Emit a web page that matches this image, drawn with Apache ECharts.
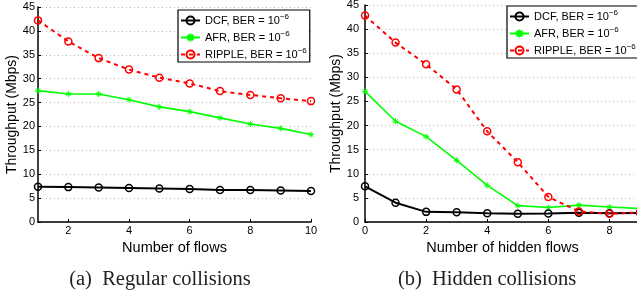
<!DOCTYPE html>
<html>
<head>
<meta charset="utf-8">
<script src="https://cdn.jsdelivr.net/npm/echarts@6/dist/echarts.min.js"></script>
<style>
html, body { margin: 0; padding: 0; background: #fff; }
#main { width: 637px; height: 293px; }
</style>
</head>
<body>
<div id="main"></div>
<script>
// data
var flowsA = [1, 2, 3, 4, 5, 6, 7, 8, 9, 10];
var dcfA = [7.4, 7.3, 7.2, 7.1, 7.0, 6.9, 6.7, 6.7, 6.6, 6.5];
var afrA = [27.5, 26.8, 26.8, 25.6, 24.1, 23.1, 21.8, 20.5, 19.6, 18.3];
var rippleA = [42.2, 37.8, 34.3, 31.9, 30.2, 29.0, 27.4, 26.6, 25.9, 25.3];

var flowsB = [0, 1, 2, 3, 4, 5, 6, 7, 8, 9];
var dcfB = [7.4, 4.0, 2.1, 2.0, 1.8, 1.7, 1.75, 1.9, 1.8, 1.9];
var afrB = [27.1, 20.9, 17.7, 12.8, 7.6, 3.4, 3.0, 3.5, 3.1, 2.8];
var rippleB = [42.8, 37.2, 32.7, 27.5, 18.8, 12.4, 5.2, 2.2, 1.7, 2.0];

var ticksA = [2, 4, 6, 8, 10];
var ticksB = [0, 2, 4, 6, 8];

var names = ['DCF', 'AFR', 'RIPPLE'];
var captions = ['(a)  Regular collisions', '(b)  Hidden collisions'];
var xNames = ['Number of flows', 'Number of hidden flows'];

function pairs(xs, ys) {
	return xs.map(function(x, i) { return [x, ys[i]]; });
}

var star = 'path://M0,-5L0,5M-5,0L5,0M-3.5,-3.5L3.5,3.5M-3.5,3.5L3.5,-3.5';

function mkSeries(idx, xs, dcf, afr, ripple) {
	return [{
		name: names[0],
		type: 'line',
		xAxisIndex: idx,
		yAxisIndex: idx,
		data: pairs(xs, dcf),
		symbol: 'circle',
		symbolSize: 7,
		lineStyle: { color: '#000', width: 2 },
		itemStyle: { color: 'rgba(255,255,255,0)', borderColor: '#000', borderWidth: 1.5 },
		z: 4
	}, {
		name: names[1],
		type: 'line',
		xAxisIndex: idx,
		yAxisIndex: idx,
		data: pairs(xs, afr),
		symbol: star,
		symbolSize: 6,
		lineStyle: { color: '#00ff00', width: 1.6 },
		itemStyle: { color: 'rgba(0,0,0,0)', borderColor: '#00ff00', borderWidth: 1 },
		z: 3
	}, {
		name: names[2],
		type: 'line',
		xAxisIndex: idx,
		yAxisIndex: idx,
		data: pairs(xs, ripple),
		symbol: 'circle',
		symbolSize: 7,
		lineStyle: { color: '#ff0000', width: 2, type: [4, 4] },
		itemStyle: { color: 'rgba(255,255,255,0)', borderColor: '#ff0000', borderWidth: 1.5 },
		z: 5
	}];
}

function mkLegend(left, top) {
	return {
		left: left,
		top: top,
		orient: 'vertical',
		data: names,
		itemWidth: 19,
		itemHeight: 10,
		itemGap: 4,
		padding: [3, 3, 2, 2],
		borderColor: '#000',
		borderWidth: 1.2,
		backgroundColor: '#fff',
		formatter: function(n) { return n + ', BER = 10{s|\u22126}'; },
		textStyle: {
			fontFamily: 'Liberation Sans, Arial',
			fontSize: 11,
			color: '#000',
			rich: { s: { fontSize: 8, verticalAlign: 'top', padding: [0, 0, 7, 0], color: '#000' } }
		}
	};
}

function mkY(idx, margin) {
	return {
		gridIndex: idx,
		type: 'value',
		min: 0,
		max: 45,
		interval: 5,
		name: 'Throughput (Mbps)',
		nameLocation: 'middle',
		nameGap: 18,
		nameTextStyle: { fontFamily: 'Liberation Sans, Arial', fontSize: 14, color: '#000' },
		axisLine: { show: true, lineStyle: { color: '#000', width: 1.5 } },
		axisTick: { show: true, inside: true, length: 3, lineStyle: { color: '#000' } },
		axisLabel: { fontFamily: 'Liberation Sans, Arial', fontSize: 11, color: '#000', margin: margin },
		splitLine: { show: true, lineStyle: { color: '#bbb', type: [1, 3] } }
	};
}

function mkX(idx, min, max, ticks) {
	return {
		gridIndex: idx,
		type: 'value',
		min: min,
		max: max,
		name: xNames[idx],
		nameLocation: 'middle',
		nameGap: 18,
		nameTextStyle: { fontFamily: 'Liberation Sans, Arial', fontSize: 14.5, color: '#000' },
		axisLine: { lineStyle: { color: '#000', width: 1.5 } },
		axisTick: { show: true, inside: true, length: 3, customValues: ticks, lineStyle: { color: '#000' } },
		axisLabel: { customValues: ticks, fontFamily: 'Liberation Sans, Arial', fontSize: 11, color: '#000', margin: 3 },
		splitLine: { show: false }
	};
}

var dom = document.getElementById('main');
var myChart = echarts.init(dom, null, { renderer: 'canvas' });
var option = {
	backgroundColor: '#fff',
	animation: false,
	grid: [
		{ left: 38, right: 326, top: 7, bottom: 71, outerBoundsMode: 'none' },
		{ left: 365, right: -3, top: 5, bottom: 71, outerBoundsMode: 'none' }
	],
	legend: [mkLegend(178, 10), mkLegend(507, 6)],
	xAxis: [mkX(0, 1, 10, ticksA), mkX(1, 0, 9, ticksB)],
	yAxis: [mkY(0, 3), mkY(1, 6)],
	title: [{
		text: captions[0],
		left: 155,
		top: 264,
		textAlign: 'center',
		textStyle: { fontFamily: 'Liberation Serif, Times New Roman', fontSize: 20.5, fontWeight: 'normal', color: '#222' }
	}, {
		text: captions[1],
		left: 482,
		top: 264,
		textAlign: 'center',
		textStyle: { fontFamily: 'Liberation Serif, Times New Roman', fontSize: 20.5, fontWeight: 'normal', color: '#222' }
	}],
	series: mkSeries(0, flowsA, dcfA, afrA, rippleA).concat(mkSeries(1, flowsB, dcfB, afrB, rippleB))
};
if (option && typeof option === 'object') {
	myChart.setOption(option, true);
}
</script>
</body>
</html>
